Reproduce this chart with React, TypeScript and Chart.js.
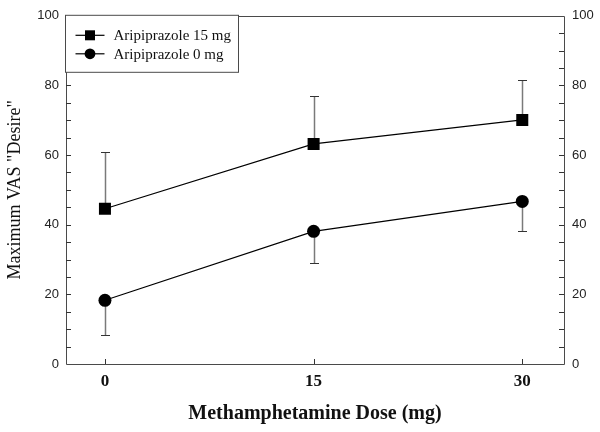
import { useEffect, useRef } from "react";
import { Chart, registerables } from "chart.js";

Chart.register(...registerables);

// ---- data ----
const doses = [0, 15, 30];
const xTickValues = [0, 15, 30];
const yTickValues = [0, 20, 40, 60, 80, 100];
const seriesLabels = ["Aripiprazole 15 mg", "Aripiprazole 0 mg"];
const arip15 = [44.6, 63.2, 70.1];
const arip15ErrUp = [16.2, 13.9, 11.6];
const arip0 = [18.3, 38.1, 46.7];
const arip0ErrDown = [10.0, 9.1, 8.5];
const xTitle = "Methamphetamine Dose (mg)";
const yTitle = 'Maximum VAS "Desire"';

const FRAME = "#4a4a4a";

const framePlugin = {
  id: "frameTicks",
  beforeDatasetsDraw(chart: any) {
    const { ctx, chartArea: a, scales } = chart;
    const y = scales.y;
    const x = scales.x;
    ctx.save();
    ctx.strokeStyle = FRAME;
    ctx.lineWidth = 1;
    ctx.beginPath();
    ctx.rect(Math.round(a.left) + 0.5, Math.round(a.top) + 0.5, Math.round(a.right - a.left), Math.round(a.bottom - a.top));
    ctx.stroke();
    // minor/major ticks on y (inward), every 5
    ctx.strokeStyle = "#333";
    ctx.beginPath();
    for (let v = 5; v < 100; v += 5) {
      const py = Math.round(y.getPixelForValue(v)) + 0.5;
      ctx.moveTo(a.left, py);
      ctx.lineTo(a.left + 5, py);
      ctx.moveTo(a.right, py);
      ctx.lineTo(a.right - 5, py);
    }
    for (const v of xTickValues) {
      const px = Math.round(x.getPixelForValue(v)) + 0.5;
      ctx.moveTo(px, a.bottom);
      ctx.lineTo(px, a.bottom - 5);
    }
    ctx.stroke();
    // error bars
    chart.data.datasets.forEach((ds: any) => {
      ctx.strokeStyle = "#7a7a7a";
      ctx.lineWidth = 1.5;
      ds.data.forEach((p: any, i: number) => {
        const up = ds.errUp ? ds.errUp[i] : 0;
        const down = ds.errDown ? ds.errDown[i] : 0;
        const px = Math.round(x.getPixelForValue(p.x)) + 0.5;
        const py = y.getPixelForValue(p.y);
        const ends: number[] = [];
        if (up) ends.push(y.getPixelForValue(p.y + up));
        if (down) ends.push(y.getPixelForValue(p.y - down));
        ends.forEach((e) => {
          const ey = Math.round(e) + 0.5;
          ctx.beginPath();
          ctx.moveTo(px, py);
          ctx.lineTo(px, ey);
          ctx.stroke();
          ctx.save();
          ctx.strokeStyle = "#333";
          ctx.lineWidth = 1;
          ctx.beginPath();
          ctx.moveTo(px - 4.5, ey);
          ctx.lineTo(px + 4.5, ey);
          ctx.stroke();
          ctx.restore();
        });
      });
    });
    ctx.restore();
  },
  afterDraw(chart: any) {
    const { ctx, chartArea: a } = chart;
    ctx.save();
    const bx = a.left - 0.5;
    const by = a.top - 0.5;
    const bw = 173;
    const bh = 57;
    ctx.fillStyle = "#ffffff";
    ctx.fillRect(bx, by, bw, bh);
    ctx.strokeStyle = FRAME;
    ctx.lineWidth = 1;
    ctx.strokeRect(bx, by, bw, bh);
    ctx.font = '15px "Liberation Serif", serif';
    ctx.textBaseline = "middle";
    ctx.textAlign = "left";
    chart.data.datasets.forEach((ds: any, i: number) => {
      const ry = by + 20 + i * 18.5;
      ctx.strokeStyle = "#000";
      ctx.lineWidth = 1.2;
      ctx.beginPath();
      ctx.moveTo(bx + 10, ry);
      ctx.lineTo(bx + 39, ry);
      ctx.stroke();
      ctx.fillStyle = "#000";
      const cx = bx + 24.5;
      if (ds.pointStyle === "rect") {
        ctx.fillRect(cx - 5, ry - 5, 10, 10);
      } else {
        ctx.beginPath();
        ctx.arc(cx, ry, 5.4, 0, Math.PI * 2);
        ctx.fill();
      }
      ctx.fillStyle = "#111";
      ctx.fillText(ds.label, bx + 48, ry + 1);
    });
    ctx.restore();
  },
};

export default function App() {
  const ref = useRef<HTMLCanvasElement | null>(null);
  useEffect(() => {
    if (!ref.current) return;
    const chart = new Chart(ref.current, {
      type: "line",
      data: {
        datasets: [
          {
            label: seriesLabels[0],
            data: doses.map((d, i) => ({ x: d, y: arip15[i] })),
            errUp: arip15ErrUp,
            borderColor: "#000",
            backgroundColor: "#000",
            borderWidth: 1.2,
            pointStyle: "rect",
            pointRadius: 8.5,
            pointBorderWidth: 0,
          } as any,
          {
            label: seriesLabels[1],
            data: doses.map((d, i) => ({ x: d, y: arip0[i] })),
            errDown: arip0ErrDown,
            borderColor: "#000",
            backgroundColor: "#000",
            borderWidth: 1.2,
            pointStyle: "circle",
            pointRadius: 6.5,
            pointBorderWidth: 0,
          } as any,
        ],
      },
      options: {
        animation: false,
        responsive: false,
        layout: { padding: { top: 15, left: 0, right: 0, bottom: 0 } },
        plugins: { legend: { display: false }, tooltip: { enabled: false } },
        scales: {
          x: {
            type: "linear",
            min: -2.8,
            max: 33,
            afterBuildTicks: (s: any) => {
              s.ticks = xTickValues.map((v) => ({ value: v }));
            },
            afterFit: (s: any) => {
              s.height = 68;
            },
            grid: { display: false, drawTicks: false },
            border: { display: false },
            ticks: {
              padding: 7,
              color: "#111",
              font: { family: '"Liberation Serif", serif', size: 17, weight: "bold" },
            },
            title: {
              display: true,
              text: xTitle,
              color: "#111",
              padding: { top: 4, bottom: 6 },
              font: { family: '"Liberation Serif", serif', size: 20, weight: "bold" },
            },
          },
          y: {
            type: "linear",
            position: "left",
            min: 0,
            max: 100,
            afterBuildTicks: (s: any) => {
              s.ticks = yTickValues.map((v) => ({ value: v }));
            },
            afterFit: (s: any) => {
              s.width = 66;
            },
            grid: { display: false, drawTicks: false },
            border: { display: false },
            ticks: {
              padding: 7,
              color: "#222",
              font: { family: '"Liberation Sans", sans-serif', size: 13 },
            },
            title: {
              display: true,
              text: yTitle,
              color: "#111",
              padding: { top: 4, bottom: 4 },
              font: { family: '"Liberation Serif", serif', size: 18 },
            },
          },
          y2: {
            type: "linear",
            position: "right",
            min: 0,
            max: 100,
            afterBuildTicks: (s: any) => {
              s.ticks = yTickValues.map((v) => ({ value: v }));
            },
            afterFit: (s: any) => {
              s.width = 36;
            },
            grid: { display: false, drawTicks: false },
            border: { display: false },
            ticks: {
              padding: 8,
              color: "#222",
              font: { family: '"Liberation Sans", sans-serif', size: 13 },
            },
          },
        },
      } as any,
      plugins: [framePlugin],
    });
    return () => chart.destroy();
  }, []);
  return (
    <div style={{ position: "absolute", left: 0, top: 0, width: 600, height: 432, background: "#fff" }}>
      <canvas ref={ref} width={600} height={432} />
    </div>
  );
}
